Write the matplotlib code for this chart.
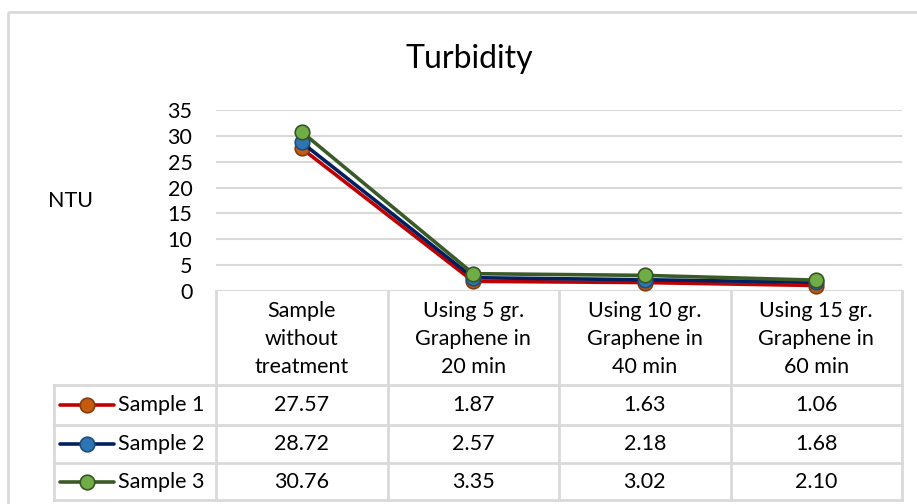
import matplotlib
matplotlib.use("Agg")
import matplotlib.pyplot as plt
from matplotlib.patches import Rectangle

plt.rcParams['font.family'] = ['Lato', 'DejaVu Sans']

# data
categories = ["Sample\nwithout\ntreatment", "Using 5 gr.\nGraphene in\n20 min",
              "Using 10 gr.\nGraphene in\n40 min", "Using 15 gr.\nGraphene in\n60 min"]
series_names = ["Sample 1", "Sample 2", "Sample 3"]
sample1 = [27.57, 1.87, 1.63, 1.06]
sample2 = [28.72, 2.57, 2.18, 1.68]
sample3 = [30.76, 3.35, 3.02, 2.10]
line_colors = ["#C00000", "#002060", "#3A5A28"]
marker_colors = ["#C55A11", "#2E75B6", "#70AD47"]
marker_edges = ["#843C0C", "#1F4E79", "#375623"]

W, H = 917, 504
fs = 15.5
fig = plt.figure(figsize=(W / 100, H / 100), dpi=100)

# overlay in pixel coords for the table and frame
ov = fig.add_axes([0, 0, 1, 1])
ov.set_xlim(0, W)
ov.set_ylim(H, 0)
ov.axis('off')

grid_c = "#D9D9D9"
ov.add_patch(Rectangle((8, 12), W + 20, H + 20, fill=False, ec=grid_c, lw=2))

# plot area
L, T, R, B = 216, 110, 902, 291
ax = fig.add_axes([L / W, 1 - B / H, (R - L) / W, (B - T) / H])
ax.set_xlim(-0.5, len(categories) - 0.5)
ax.set_ylim(0, 35)
ax.set_yticks(range(0, 36, 5))
ax.set_xticks([])
ax.yaxis.grid(True, color=grid_c, lw=1.5)
ax.set_axisbelow(True)
for s in ax.spines.values():
    s.set_visible(False)
ax.tick_params(axis='y', length=0, pad=17, labelsize=fs)
ax.patch.set_alpha(0)

all_series = [sample1, sample2, sample3]
x = range(len(categories))
for vals, lc, mc, me in zip(all_series, line_colors, marker_colors, marker_edges):
    ax.plot(x, vals, color=lc, lw=2.6, marker='o', ms=10.5, mfc=mc, mec=me,
            mew=1.2, clip_on=False, zorder=3)

fig.text(469 / W, 1 - 59 / H, "Turbidity", ha='center', va='center', fontsize=23)
fig.text(70 / W, 1 - 201 / H, "NTU", ha='center', va='center', fontsize=fs)

# table
col_w = (R - L) / len(categories)
row_tops = [385, 425, 463, 500]
for i in range(len(categories) + 1):
    xc = L + i * col_w
    ov.plot([xc, xc], [B, row_tops[-1]], color=grid_c, lw=2)
ov.plot([54, 54], [row_tops[0], row_tops[-1]], color=grid_c, lw=2)
for y in row_tops:
    ov.plot([54, R], [y, y], color=grid_c, lw=2)

for i, cat in enumerate(categories):
    cx = L + (i + 0.5) * col_w
    ov.text(cx, (B + row_tops[0]) / 2 + 1, cat, ha='center', va='center',
            fontsize=fs, linespacing=1.52)

for r, (name, vals) in enumerate(zip(series_names, all_series)):
    cy = (row_tops[r] + row_tops[r + 1]) / 2
    ov.plot([60, 114], [cy, cy], color=line_colors[r], lw=2.6, solid_capstyle='round')
    ov.plot([87], [cy], marker='o', ms=10.5, mfc=marker_colors[r], mec=marker_edges[r], mew=1.2)
    ov.text(118, cy, name, ha='left', va='center', fontsize=fs)
    for i, v in enumerate(vals):
        cx = L + (i + 0.5) * col_w
        ov.text(cx, cy, f"{v:.2f}", ha='center', va='center', fontsize=fs)

fig.savefig("out.png", dpi=100)
